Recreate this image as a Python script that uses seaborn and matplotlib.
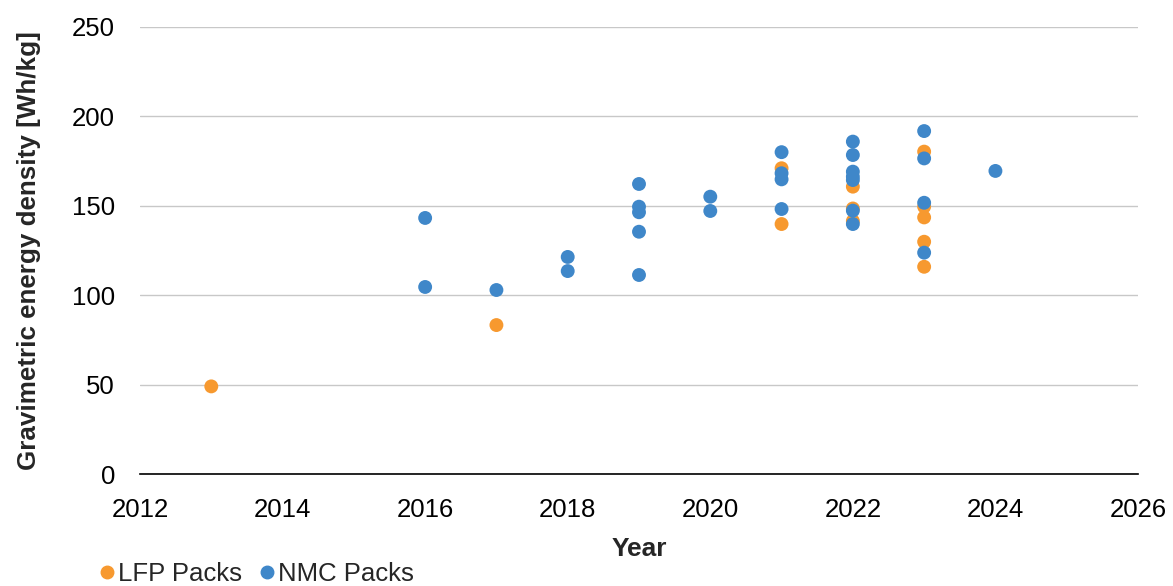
import matplotlib
matplotlib.use("Agg")
import matplotlib.pyplot as plt
import seaborn as sns
import pandas as pd

lfp_years = [2013, 2017, 2021, 2021, 2022, 2022, 2022, 2023, 2023, 2023, 2023, 2023]
lfp_values = [49, 83.3, 171, 139.8, 160.7, 148.5, 141.5, 180.3, 149.5, 143.5, 129.9, 115.9]

nmc_years = [2016, 2016, 2017, 2018, 2018, 2019, 2019, 2019, 2019, 2019, 2020, 2020,
             2021, 2021, 2021, 2021, 2022, 2022, 2022, 2022, 2022, 2022, 2022,
             2023, 2023, 2023, 2023, 2024]
nmc_values = [143.2, 104.6, 102.9, 121.4, 113.5, 162.2, 149.5, 146.4, 135.5, 111.3, 155.1, 147.1,
              180, 168.2, 164.8, 148.2, 185.9, 178.4, 169.1, 166.3, 164.4, 147.3, 139.8,
              191.8, 176.5, 151.7, 123.8, 169.5]

series_names = ["LFP Packs", "NMC Packs"]
colors = ["#F7992F", "#3F87C9"]

df = pd.DataFrame({
    "Year": lfp_years + nmc_years,
    "Density": lfp_values + nmc_values,
    "Series": [series_names[0]] * len(lfp_years) + [series_names[1]] * len(nmc_years),
})

sns.set_theme(style="white")
plt.rcParams['font.family'] = ['Liberation Sans', 'DejaVu Sans']

fig = plt.figure(figsize=(11.73, 5.86), dpi=100)
ax = fig.add_axes([140 / 1173, 1 - 474 / 586, (1138 - 140) / 1173, (474 - 27) / 586])

sns.scatterplot(data=df, x="Year", y="Density", hue="Series",
                palette=dict(zip(series_names, colors)), s=100, linewidth=0,
                ax=ax, legend=False, zorder=3)

ax.set_xlim(2012, 2026)
ax.set_ylim(0, 250)
ax.set_xticks(range(2012, 2027, 2))
ax.set_yticks(range(0, 251, 50))
ax.yaxis.grid(True, color="#C8C8C8", linewidth=1)
ax.set_axisbelow(True)
for side in ["top", "right", "left"]:
    ax.spines[side].set_visible(False)
ax.spines["bottom"].set_color("black")
ax.spines["bottom"].set_linewidth(1.2)
ax.tick_params(axis="both", length=0, labelsize=18.5, colors="black")
ax.tick_params(axis="x", pad=17)
ax.tick_params(axis="y", pad=18)

ax.set_xlabel("Year", fontsize=19, fontweight="bold", labelpad=11)
ax.set_ylabel("Gravimetric energy density [Wh/kg]", fontsize=18.7, fontweight="bold", labelpad=22)

handles = [plt.Line2D([], [], marker="o", linestyle="", color=c, markersize=9) for c in colors]
fig.legend(handles, series_names, loc="lower left", bbox_to_anchor=(72 / 1173, -0.039),
           ncol=2, frameon=False, fontsize=18.5, handletextpad=0.0, columnspacing=0.5,
           handlelength=0.9)

fig.savefig("out.png", dpi=100)
